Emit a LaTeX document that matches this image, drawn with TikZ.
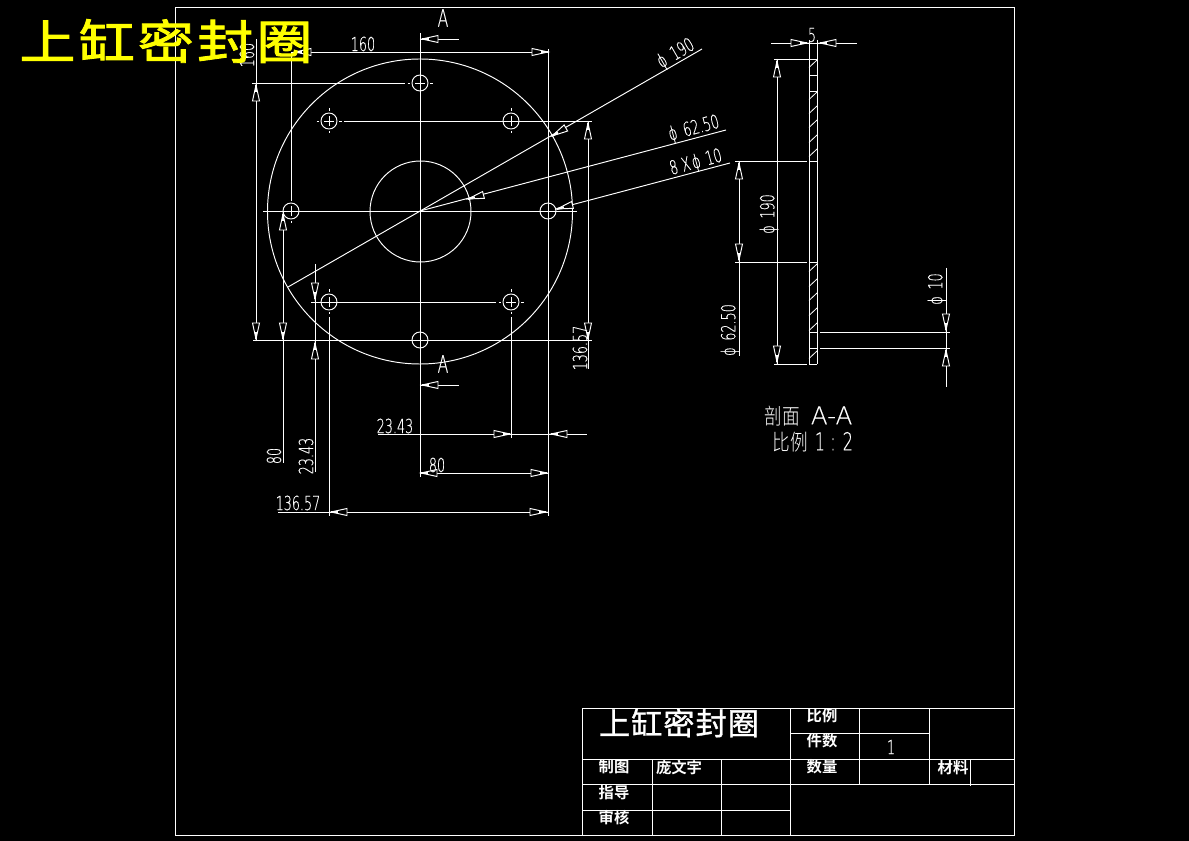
\documentclass[tikz,border=0pt]{standalone}
\usepackage{fontspec}
\setmainfont{DejaVu Sans}
\newfontfamily\cadfont[FakeStretch=0.66,FakeBold=0.25]{DejaVu Sans ExtraLight}
\newfontfamily\capfont[FakeStretch=1.0,FakeBold=0.2]{DejaVu Sans ExtraLight}
\newfontfamily\cjkb[BoldFont={Noto Sans CJK SC Bold}]{Noto Sans CJK SC}
\newfontfamily\cjkthin[FakeStretch=0.8]{Noto Sans CJK SC Light}
\newfontfamily\cjkhead[FakeStretch=1.2,FakeBold=2,LetterSpace=7]{Noto Sans CJK SC}
\newfontfamily\cjktitle[FakeStretch=1.02,FakeBold=1,LetterSpace=3]{Noto Sans CJK SC}
\definecolor{cadyellow}{RGB}{255,255,0}
\newcommand{\arw}[3]{\begin{scope}[shift={(#1,#2)},rotate=#3]
 \draw[cad,fill=black] (0,0) -- (-10,-2.2) -- (-16,-3.5) -- (-16,3.5) -- (-10,2.2) -- cycle;
 \draw[cad,line width=1.5pt] (0,0) -- (-7,0);
\end{scope}}
\tikzset{cad/.style={draw=white,line width=0.72pt,line cap=butt},
 dim/.style={text=white,font=\cadfont\fontsize{14.5}{15}\selectfont,inner sep=0pt},
 lab/.style={text=white,font=\cjkb\bfseries\fontsize{11.5}{12}\selectfont,inner sep=0pt},
 sec/.style={text=white,font=\cjkthin\fontsize{16.5}{18}\selectfont,inner sep=0pt}}
\begin{document}
\begin{tikzpicture}[x=0.75pt,y=-0.75pt]
\useasboundingbox (0,0) rectangle (1189,841);
\fill[black] (0,0) rectangle (1189,841);
% frame
\draw[cad] (175,7) rectangle (1014,835);
% plate circles
\draw[cad] (420,211.5) circle[radius=152.5];
\draw[cad] (420.5,211.5) circle[radius=50.5];
% holes
\foreach \hx/\hy in {420/83,291/211,548/211,420/340,329/121,511/121,329/302,511/302}
  \draw[cad] (\hx,\hy) circle[radius=8];
% centre marks
\foreach \hx/\hy in {420/83,291/211,329/121,511/121,329/302,511/302}{
  \draw[cad,line width=0.6pt] (\hx-5,\hy) -- (\hx+5,\hy) (\hx,\hy-5) -- (\hx,\hy+5);
  \draw[cad,line width=0.6pt] (\hx,\hy-12.5) -- (\hx,\hy-10) (\hx,\hy+10) -- (\hx,\hy+12.5)
             (\hx-12.5,\hy) -- (\hx-10,\hy) (\hx+10,\hy) -- (\hx+12.5,\hy);}
% centre lines and extension lines
\draw[cad] (420,33) -- (420,477);
\draw[cad] (263,211) -- (577,211);
\draw[cad] (291,52) -- (548,52);
\draw[cad] (291,52) -- (291,200);
\draw[cad] (252,83) -- (405,83);
\draw[cad] (256,39) -- (256,340);
\draw[cad] (253,340) -- (592,340);
\draw[cad] (283,212) -- (283,463);
\draw[cad] (315,264) -- (315,472);
\draw[cad] (311,302) -- (496,302);
\draw[cad] (344,121) -- (592,121);
\draw[cad] (588,121) -- (588,369);
\draw[cad] (548,49) -- (548,516);
\draw[cad] (329,317) -- (329,516);
\draw[cad] (511,317) -- (511,438);
\draw[cad] (378,434) -- (587,434);
\draw[cad] (420,473) -- (548,473);
\draw[cad] (278,512) -- (548,512);
\draw[cad] (421,39) -- (459,39);
\draw[cad] (421,385) -- (459,385);
% leaders
\draw[cad] (288,287) -- (702,49);
\draw[cad] (420,211) -- (726,130);
\draw[cad] (556,209) -- (730,163);
% arrows plan view
\arw{422}{39}{180}\arw{422}{385}{180}
\arw{295}{52}{180}\arw{548}{52}{0}
\arw{256}{85}{90}\arw{256}{339}{-90}
\arw{283}{214}{90}\arw{283}{339}{-90}
\arw{315}{299}{-90}\arw{315}{343}{90}
\arw{588}{123}{90}\arw{588}{339}{-90}
\arw{510}{434}{0}\arw{551}{434}{180}
\arw{421}{473}{180}\arw{547}{473}{0}
\arw{331}{512}{180}\arw{546}{512}{0}
\arw{552}{136}{210}
\arw{468}{199}{194.8}
\arw{557}{209}{194.8}
% section view
\draw[cad] (809,40) -- (809,364);
\draw[cad] (817,40) -- (817,364);
\draw[cad] (774,59) -- (817,59);
\draw[cad] (809,75) -- (817,75);
\draw[cad] (809,91) -- (817,91);
\draw[cad] (735,161) -- (807,161) (809,161) -- (817,161);
\draw[cad] (735,262) -- (807,262) (809,262) -- (817,262);
\draw[cad] (809,332) -- (817,332) (820,332) -- (950,332);
\draw[cad] (809,348) -- (817,348) (820,348) -- (950,348);
\draw[cad] (774,364) -- (807,364) (809,364) -- (817,364);
\foreach \hy in {60,92,106,120,135,149,264,279,293,308,323,351}
  \draw[draw=white,line width=0.6pt] (817,\hy) -- (809,\hy+7.5);
\draw[cad] (777,59) -- (777,364);
\draw[cad] (739,161) -- (739,356);
\draw[cad] (946,268) -- (946,387);
\draw[cad] (771,43) -- (857,43);
\arw{777}{61}{90}\arw{777}{362}{-90}
\arw{739}{163}{90}\arw{739}{260}{-90}
\arw{946}{330}{-90}\arw{946}{350}{90}
\arw{807}{43}{0}\arw{820}{43}{180}
% dimension texts
\node[dim] (tA1) at (443,18) {\fontsize{18}{18}\selectfont A};
\node[dim] (tA2) at (443,364) {\fontsize{18}{18}\selectfont A};
\node[dim] (t160h) at (363,44) {160};
\node[dim,rotate=90] (t160v) at (247,55) {160};
\node[dim,rotate=90] (t80v) at (274,456) {80};
\node[dim,rotate=90] (t2343v) at (306,456) {23.43};
\node[dim,rotate=90] (t13657v) at (580,348) {136.57};
\node[dim] (t2343h) at (395,426) {23.43};
\node[dim] (t80h) at (437,465) {80};
\node[dim] (t13657h) at (298,503) {136.57};
\node[dim,rotate=30] (tp190) at (676,54) {ϕ\hspace{0.35em}190};
\node[dim,rotate=15] (tp625) at (694,129) {ϕ\hspace{0.35em}62.50};
\node[dim,rotate=15] (tp10) at (696,163) {8 X\hspace{0.1em}ϕ\hspace{0.3em}10};
\node[dim,rotate=90] (sp190) at (769,214) {ϕ\hspace{0.35em}190};
\node[dim,rotate=90] (sp625) at (730,330) {ϕ\hspace{0.35em}62.50};
\node[dim,rotate=90] (sp10) at (937,289) {ϕ\hspace{0.35em}10};
\node[dim] (s5) at (812,35) {5};
\node[sec] (cap1) at (808.5,416) {剖面\hspace{0.5em}{\capfont\fontsize{18.5}{20}\selectfont A-A}};
\node[sec] (cap2) at (813,442) {比例\hspace{0.3em}{\cadfont\fontsize{18.5}{20}\selectfont 1 : 2}};
% title block
\draw[cad] (582,708) rectangle (1014,835);
\draw[cad] (582,759) -- (1014,759);
\draw[cad] (582,784) -- (1014,784);
\draw[cad] (582,810) -- (790,810);
\draw[cad] (790,733) -- (929,733);
\draw[cad] (652,759) -- (652,835);
\draw[cad] (721,759) -- (721,835);
\draw[cad] (790,708) -- (790,835);
\draw[cad] (859,708) -- (859,784);
\draw[cad] (929,708) -- (929,784);
\draw[cad] (970,759) -- (970,786);
\node[text=white,font=\cjktitle\fontsize{23}{24}\selectfont,inner sep=0pt] (b0) at (679,723) {上缸密封圈};
\node[lab] (b1) at (822,716) {比例};
\node[lab] (b2) at (822,741) {件数};
\node[dim] (b3) at (891,747) {1};
\node[lab] (b4) at (614,767) {制图};
\node[lab] (b5) at (679,768) {庞文宇};
\node[lab] (b6) at (822,767) {数量};
\node[lab] (b7) at (953,768) {材料};
\node[lab] (b8) at (614,793) {指导};
\node[lab] (b9) at (614,818) {审核};
% big heading
\node[text=cadyellow,font=\cjkhead\fontsize{35}{37}\selectfont,inner sep=0pt] (head) at (166,41) {上缸密封圈};
\end{tikzpicture}
\end{document}
